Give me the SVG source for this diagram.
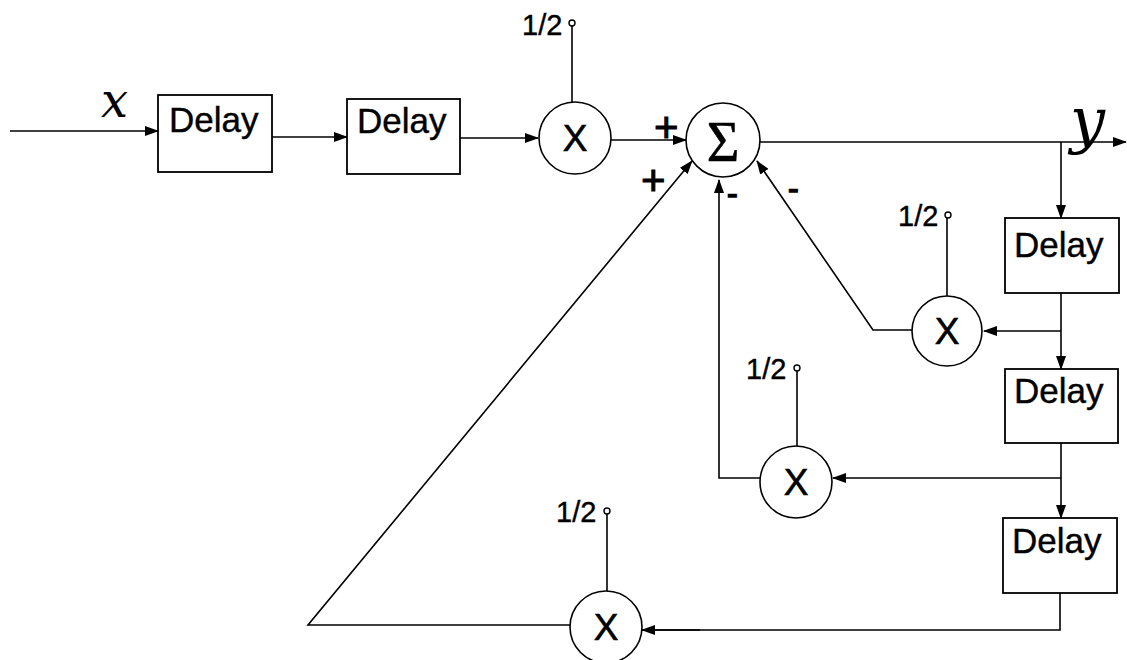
<svg xmlns="http://www.w3.org/2000/svg" width="1127" height="660" viewBox="0 0 1127 660">
<defs>
<marker id="arr" markerUnits="userSpaceOnUse" markerWidth="14" markerHeight="10" refX="13" refY="5" orient="auto">
<path d="M0,0 L14,5 L0,10 Z" fill="#000"/>
</marker>
<style>
.box{fill:#fff;stroke:#000;stroke-width:1.8}
.mul{fill:#fff;stroke:#000;stroke-width:1.6}
.ln{fill:none;stroke:#000;stroke-width:1.6}
.a{marker-end:url(#arr)}
.dl{font-family:"Liberation Sans",Arial,sans-serif;font-size:35px;fill:#000;stroke:#000;stroke-width:0.4}
.xt{font-family:"Liberation Sans",Arial,sans-serif;font-size:37px;fill:#000;text-anchor:middle;stroke:#000;stroke-width:0.6}
.half{font-family:"Liberation Sans",Arial,sans-serif;font-size:29px;fill:#000;stroke:#000;stroke-width:0.4}
.sg{font-family:"Liberation Sans",Arial,sans-serif;font-size:42px;fill:#000;stroke:#000;stroke-width:1}
.mn{font-family:"Liberation Sans",Arial,sans-serif;font-size:32px;fill:#000;stroke:#000;stroke-width:1.4}
.var{font-family:"DejaVu Serif",serif;font-style:italic;fill:#000}
.dot{fill:#fff;stroke:#000;stroke-width:1.4}
</style>
</defs>
<rect width="1127" height="660" fill="#fff"/>
<g id="connectors">
<line class="ln a" x1="10" y1="131" x2="158" y2="131"/>
<line class="ln a" x1="272" y1="137" x2="347" y2="137"/>
<line class="ln a" x1="460" y1="138" x2="538" y2="138"/>
<line class="ln a" x1="611" y1="140" x2="686" y2="140"/>
<line class="ln a" x1="760" y1="142" x2="1126" y2="142"/>
<line class="ln a" x1="1061" y1="142" x2="1061" y2="218"/>
<line class="ln a" x1="1061" y1="293" x2="1061" y2="369"/>
<line class="ln a" x1="1061" y1="331" x2="984" y2="331"/>
<line class="ln a" x1="1061" y1="443" x2="1061" y2="518"/>
<line class="ln a" x1="1061" y1="478" x2="833" y2="478"/>
<polyline class="ln" points="1060,593 1060,630 642,630"/>
<line class="ln a" x1="700" y1="630" x2="642" y2="630"/>
<polyline class="ln a" points="912,330 873,330 757,161"/>
<polyline class="ln a" points="760,478 719,478 719,180"/>
<polyline class="ln a" points="570,625 308,625 692,161"/>
<line class="ln" x1="572" y1="26" x2="572" y2="102"/>
<line class="ln" x1="947" y1="218" x2="947" y2="296"/>
<line class="ln" x1="797" y1="371" x2="797" y2="446"/>
<line class="ln" x1="607" y1="514" x2="607" y2="591"/>
</g>
<g id="delay1"><rect class="box" x="158" y="95" width="114" height="77"/><text class="dl" x="169" y="132">Delay</text></g>
<g id="delay2"><rect class="box" x="347" y="99" width="113" height="75"/><text class="dl" x="357" y="133">Delay</text></g>
<g id="delay3"><rect class="box" x="1005" y="218" width="114" height="75"/><text class="dl" x="1014" y="257">Delay</text></g>
<g id="delay4"><rect class="box" x="1005" y="369" width="113" height="74"/><text class="dl" x="1014" y="403">Delay</text></g>
<g id="delay5"><rect class="box" x="1003" y="518" width="114" height="75"/><text class="dl" x="1012" y="553">Delay</text></g>
<g id="mult1"><circle class="mul" cx="575" cy="138" r="36"/><text class="xt" x="575" y="151">X</text>
<circle class="dot" cx="572" cy="23" r="3"/><text class="half" x="522" y="35">1/2</text></g>
<g id="mult2"><circle class="mul" cx="947" cy="331" r="35"/><text class="xt" x="947" y="344">X</text>
<circle class="dot" cx="948" cy="215" r="3"/><text class="half" x="898" y="226">1/2</text></g>
<g id="mult3"><circle class="mul" cx="796" cy="482" r="36"/><text class="xt" x="796" y="495">X</text>
<circle class="dot" cx="797" cy="368" r="3"/><text class="half" x="746" y="379">1/2</text></g>
<g id="mult4"><circle class="mul" cx="606" cy="627" r="36"/><text class="xt" x="606" y="640">X</text>
<circle class="dot" cx="607" cy="511" r="3"/><text class="half" x="556" y="522">1/2</text></g>
<g id="sum"><circle class="mul" cx="723" cy="140" r="37"/>
<text x="723" y="161" text-anchor="middle" font-family="Liberation Serif,serif" font-size="56" fill="#000" stroke="#000" stroke-width="0.6">Σ</text></g>
<g id="labels">
<text class="sg" x="654" y="142">+</text>
<text class="sg" x="641" y="195">+</text>
<text class="mn" x="727" y="204">-</text>
<text class="mn" x="788" y="199">-</text>
<text class="var" x="101" y="117" font-size="48">x</text>
<text class="var" x="1070" y="141" font-size="62">y</text>
</g>
</svg>
